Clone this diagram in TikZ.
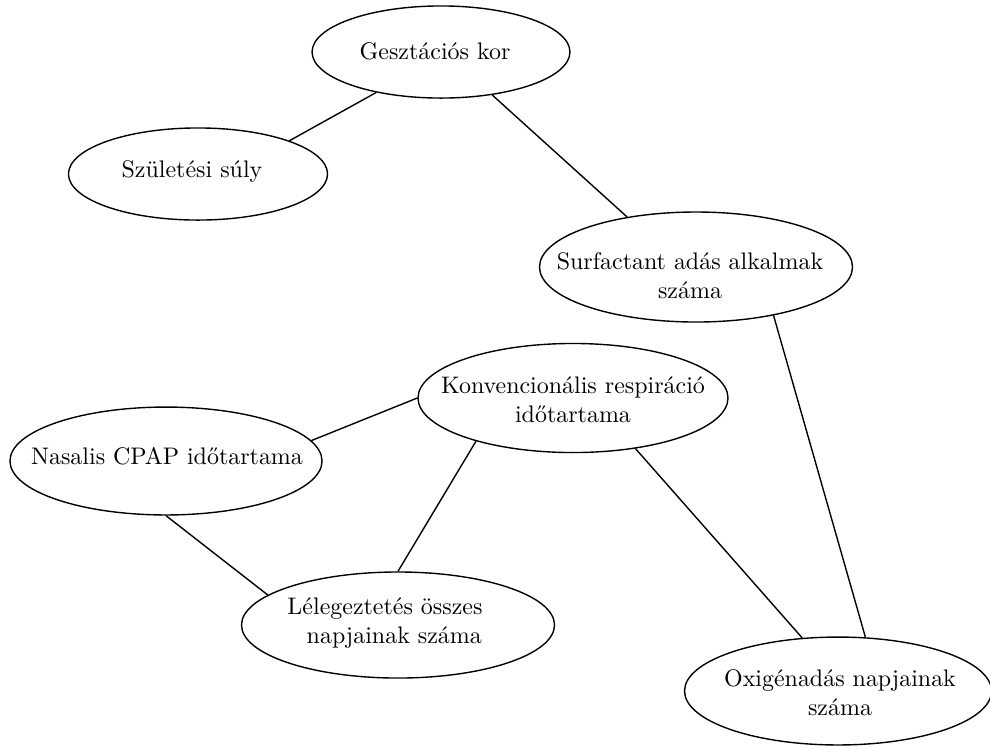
\documentclass[tikz,border=0pt]{standalone}
\usetikzlibrary{shapes.geometric}
\begin{document}
\begin{tikzpicture}[x=0.43pt, y=-0.43pt,
  oval/.style={draw, ellipse, inner sep=0pt, line width=0.6pt},
  lbl/.style={align=center, inner sep=0pt, font=\fontsize{10.3}{12.6}\selectfont},
  link/.style={line width=0.6pt}]
\useasboundingbox (0,0) rectangle (990,746);

% ellipses
\node[oval, minimum width=110.9pt, minimum height=39.6pt] (gk)   at (441,52)  {};
\node[oval, minimum width=111.4pt, minimum height=39.6pt] (szs)  at (198,174) {};
\node[oval, minimum width=134.6pt, minimum height=47.3pt] (surf) at (696,267) {};
\node[oval, minimum width=133.3pt, minimum height=46.9pt] (konv) at (573,398) {};
\node[oval, minimum width=134.2pt, minimum height=46.4pt] (cpap) at (166,461) {};
\node[oval, minimum width=134.6pt, minimum height=45.6pt] (lel)  at (398,625) {};
\node[oval, minimum width=132.0pt, minimum height=46.4pt] (oxi)  at (838,691) {};

% texts
\node[lbl] (gkt)   at (435,51)  {Gesztációs kor};
\node[lbl] (szst)  at (192,171) {Születési súly};
\node[lbl] (surft) at (690,276) {Surfactant adás alkalmak\\száma};
\node[lbl] (konvt) at (573,400) {Konvencionális respiráció\\időtartama};
\node[lbl] (cpapt) at (167,456) {Nasalis CPAP időtartama};
\node[lbl] (lelt)  at (385,623) {Lélegeztetés összes\\\hspace*{8pt}napjainak száma};
\node[lbl] (oxit)  at (840,693) {Oxigénadás napjainak\\száma};

% connectors
\draw[link] (gk.212)   -- (szs.20);
\draw[link] (gk.320)   -- (surf.144);
\draw[link] (surf.328) -- (oxi.63);
\draw[link] (konv.180) -- (cpap.8);
\draw[link] (konv.204) -- (lel.90);
\draw[link] (konv.321) -- (oxi.124);
\draw[link] (cpap.270) -- (lel.167);
\end{tikzpicture}
\end{document}
